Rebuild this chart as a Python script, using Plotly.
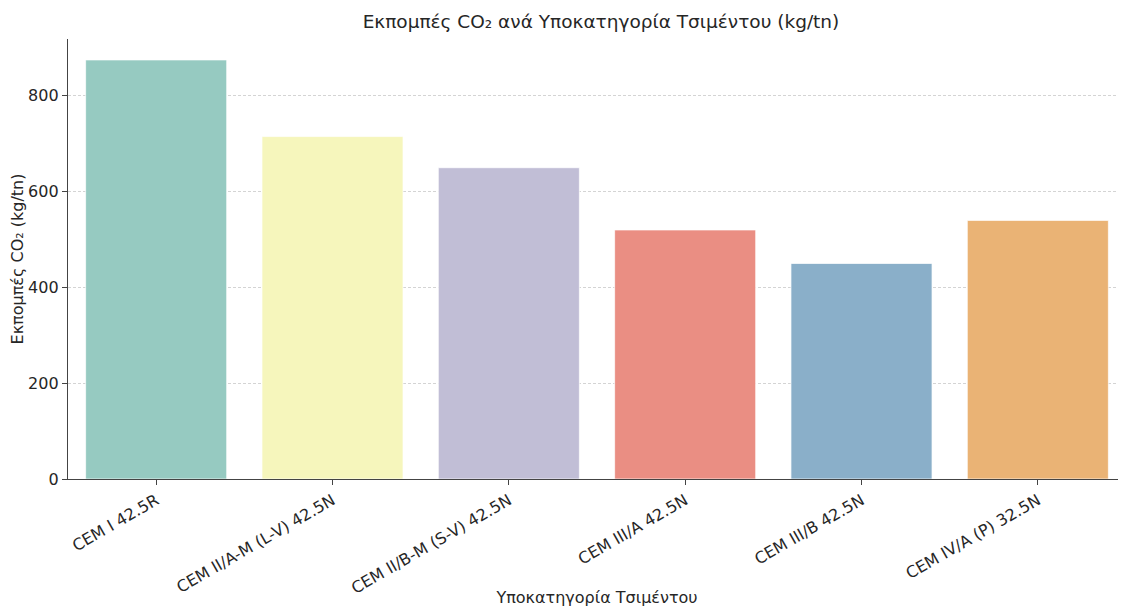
import plotly.graph_objects as go

categories = ["CEM I 42.5R", "CEM II/A-M (L-V) 42.5N", "CEM II/B-M (S-V) 42.5N",
              "CEM III/A 42.5N", "CEM III/B 42.5N", "CEM IV/A (P) 32.5N"]
emissions = [875, 715, 650, 520, 450, 540]
colors = ["#96cac1", "#f6f6bc", "#c1bed6", "#ea8e83", "#8aafc9", "#eab375"]
y_ticks = [0, 200, 400, 600, 800]

FONT = "DejaVu Sans"
TXT = "#262626"

fig = go.Figure()
fig.add_trace(go.Bar(
    x=list(range(len(categories))), y=emissions,
    width=0.8,
    marker=dict(color=colors, line=dict(color="rgba(255,255,255,0.7)", width=1)),
    hoverinfo="x+y",
))

# page body has an 8px margin, so the figure is offset by (8, 8)
fig.update_layout(
    width=1118, height=599,
    margin=dict(l=60, r=0, t=31, b=128, autoexpand=False),
    paper_bgcolor="white", plot_bgcolor="white",
    font=dict(family=FONT, size=16, color=TXT),
    title=dict(text="Εκπομπές CO₂ ανά Υποκατηγορία Τσιμέντου (kg/tn)",
               x=0.5304, xanchor="center", y=0.977, yanchor="middle",
               font=dict(family=FONT, size=18.5, color=TXT)),
    showlegend=False,
    bargap=0.2,
)

fig.update_xaxes(
    range=[-0.5, 5.5], automargin=False,
    tickmode="array", tickvals=list(range(len(categories))), ticktext=categories,
    tickangle=-30,
    showline=True, linecolor="#444444", linewidth=1.3,
    ticks="outside", ticklen=5, tickwidth=1, tickcolor="#444444",
    showgrid=False, zeroline=False,
    tickfont=dict(family=FONT, size=16, color=TXT),
    title=dict(text="Υποκατηγορία Τσιμέντου", font=dict(family=FONT, size=16, color=TXT), standoff=2),
)

fig.update_yaxes(
    range=[0, 918.75], automargin=False,
    tickmode="array", tickvals=y_ticks,
    showline=True, linecolor="#444444", linewidth=1.3,
    ticks="outside", ticklen=5, tickwidth=1, tickcolor="#444444",
    showgrid=True, gridcolor="#d4d4d4", gridwidth=0.8, griddash="3px,2px",
    zeroline=False,
    tickfont=dict(family=FONT, size=16, color=TXT),
    title=dict(text="Εκπομπές CO₂ (kg/tn)", font=dict(family=FONT, size=16, color=TXT), standoff=2),
)

fig.write_html("out.html")
